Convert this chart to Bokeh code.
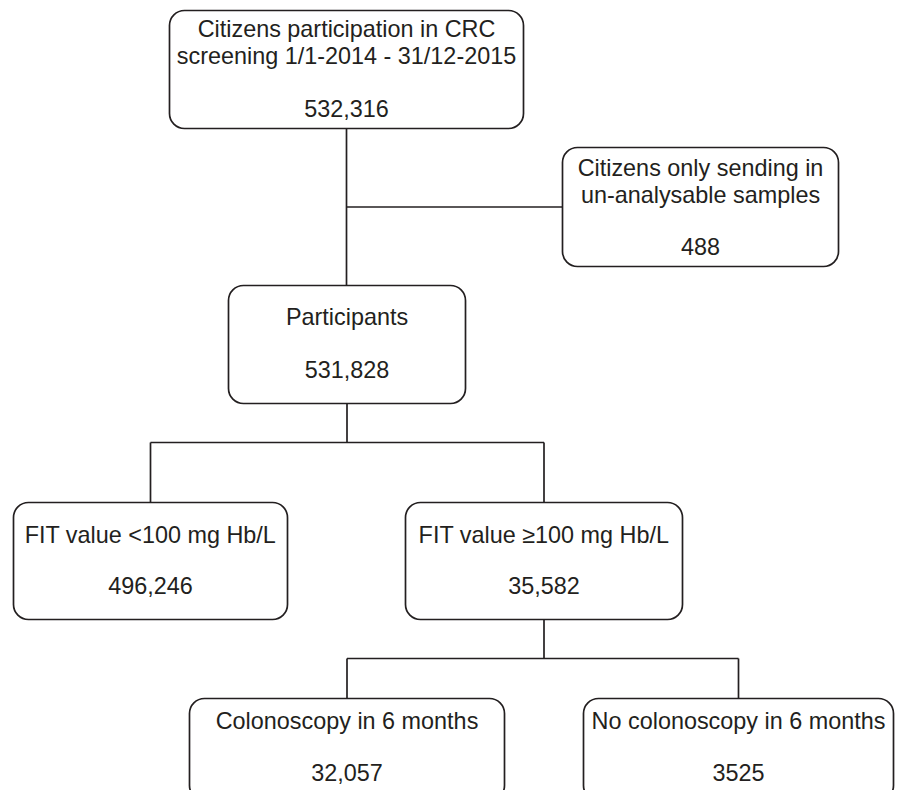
from bokeh.plotting import figure
from bokeh.models import Range1d, ColumnDataSource
from bokeh.core.properties import value
from bokeh.embed import file_html
from bokeh.resources import INLINE

# ---------------- data ----------------
titles = [
    "Citizens participation in CRC\nscreening 1/1-2014 - 31/12-2015",
    "Citizens only sending in\nun-analysable samples",
    "Participants",
    "FIT value <100 mg Hb/L",
    "FIT value \u2265100 mg Hb/L",
    "Colonoscopy in 6 months",
    "No colonoscopy in 6 months",
]
counts = ["532,316", "488", "531,828", "496,246", "35,582", "32,057", "3525"]
parents = [None, 0, 0, 2, 2, 4, 4]
link_kind = [None, "side", "down", "down", "down", "down", "down"]

# ---------------- layout (reference-picture pixels) ----------------
W, H = 901, 790
box_left = [169, 562, 228, 13, 405, 189, 583]
box_right = [523, 838, 465, 287, 682, 504, 893]
box_top = [10, 147, 285, 502, 502, 698, 698]
box_bottom = [128, 266, 403, 619, 619, 800, 800]
title_base = [37.3, 176.0, 325.7, 543.3, 543.3, 729.5, 729.5]
count_base = [116.7, 255.0, 378.3, 594.3, 594.3, 781.3, 781.3]
line_gap = 27.6
bus_y = {2: 442, 4: 658}
TEXT_DY = -9  # compensation for the renderer's baseline placement

INK = "#231f20"
FONT = value("Liberation Sans")
FSIZE = "23.4px"
LW = 1.7

p = figure(width=W, height=H, x_range=Range1d(0, W), y_range=Range1d(H, 0),
           output_backend="svg", toolbar_location=None, min_border=0,
           x_axis_location=None, y_axis_location=None)
p.grid.visible = False
p.outline_line_color = None
p.background_fill_color = "white"
p.border_fill_color = "white"

cx = [(l + r) / 2 for l, r in zip(box_left, box_right)]
cy = [(t + b) / 2 for t, b in zip(box_top, box_bottom)]

# connectors derived from the boxes
sx0, sy0, sx1, sy1 = [], [], [], []
for par in sorted(set(x for x in parents if x is not None)):
    kids = [i for i, q in enumerate(parents) if q == par]
    down = [k for k in kids if link_kind[k] == "down"]
    side = [k for k in kids if link_kind[k] == "side"]
    if len(down) == 1:
        k = down[0]
        sx0.append(cx[par]); sy0.append(box_bottom[par]); sx1.append(cx[par]); sy1.append(box_top[k])
    elif len(down) > 1:
        by = bus_y[par]
        sx0.append(cx[par]); sy0.append(box_bottom[par]); sx1.append(cx[par]); sy1.append(by)
        xs = [cx[k] for k in down]
        sx0.append(min(xs)); sy0.append(by); sx1.append(max(xs)); sy1.append(by)
        for k in down:
            sx0.append(cx[k]); sy0.append(by); sx1.append(cx[k]); sy1.append(box_top[k])
    for k in side:
        sx0.append(cx[par]); sy0.append(cy[k]); sx1.append(box_left[k]); sy1.append(cy[k])

p.segment(x0=sx0, y0=sy0, x1=sx1, y1=sy1, line_color=INK, line_width=LW)

p.quad(left=box_left, right=box_right, top=box_top, bottom=box_bottom,
       fill_color="white", line_color=INK, line_width=LW, border_radius=15)

tx, ty, tt = [], [], []
for i, t in enumerate(titles):
    for j, line in enumerate(t.split("\n")):
        tx.append(cx[i]); ty.append(title_base[i] + j * line_gap + TEXT_DY); tt.append(line)
    tx.append(cx[i]); ty.append(count_base[i] + TEXT_DY); tt.append(counts[i])

src = ColumnDataSource(dict(x=tx, y=ty, t=tt))
p.text(x="x", y="y", text="t", source=src, text_align="center", text_baseline="alphabetic",
       text_font=FONT, text_font_size=FSIZE, text_color=INK)

open("out.html", "w").write(file_html(p, INLINE))
